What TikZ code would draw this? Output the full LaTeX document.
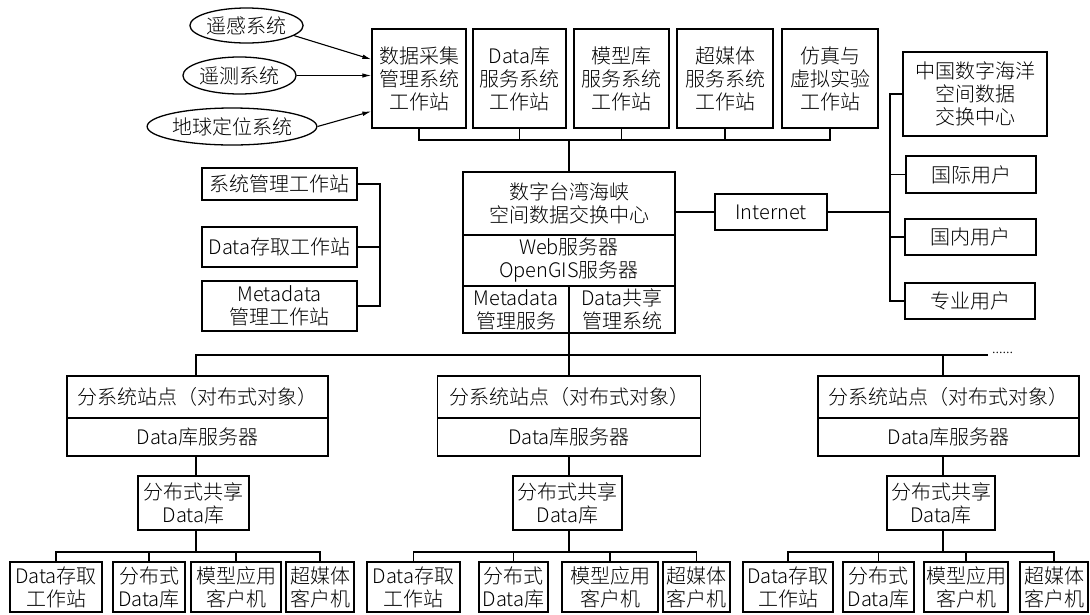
\documentclass[tikz,border=0pt]{standalone}
\usepackage{fontspec}
\setmainfont{Noto Sans CJK SC}[UprightFont=* Light]
\usetikzlibrary{arrows.meta,calc,shapes.geometric}
\newcommand\dgfont{\fontsize{20}{23}\selectfont}
\begin{document}
\begin{tikzpicture}[x=1pt,y=-1pt,
  box/.style={draw, line width=1.3pt, inner sep=0pt, align=center, font=\dgfont},
  ln/.style={line width=1.3pt},
  ell/.style={draw, ellipse, line width=1.3pt, inner sep=0pt, font=\dgfont},
  arr/.style={line width=1.1pt, -{Latex[length=9pt,width=4.5pt]}}]
\useasboundingbox (0,0) rectangle (1090,614);

% ellipses
\node[ell, minimum width=111, minimum height=35] (e1) at (246.5,25.5) {遥感系统};
\node[ell, minimum width=111, minimum height=37] (e2) at (239.5,75.5) {遥测系统};
\node[ell, minimum width=150, minimum height=37] (e3) at (232,126.5) {地球定位系统};

% top row
\node[box, minimum width=94, minimum height=99] (t1) at (419,78.5) {数据采集\\管理系统\\工作站};
\node[box, minimum width=93, minimum height=99] (t2) at (519.5,78.5) {Data库\\服务系统\\工作站};
\node[box, minimum width=95, minimum height=99] (t3) at (621.5,78.5) {模型库\\服务系统\\工作站};
\node[box, minimum width=96, minimum height=99] (t4) at (725,78.5) {超媒体\\服务系统\\工作站};
\node[box, minimum width=96, minimum height=99] (t5) at (830,78.5) {仿真与\\虚拟实验\\工作站};

\draw[arr] (e1.-12) -- ($(t1.north west)+(0,31)$);
\draw[arr] (e2.east) -- (e2.east -| t1.west);
\draw[arr] (e3.east) -- ($(t1.north west)+(0,83)$);

\coordinate (bus1) at (569,140);
\draw[ln] (t1.south) |- (t5.south |- bus1) -- (t5.south);
\foreach \n in {t2,t3,t4} \draw[ln] (\n.south) -- (\n.south |- bus1);

% center box
\node[box, minimum width=212, minimum height=63] (cTop) at (569,203.5) {数字台湾海峡\\空间数据交换中心};
\node[box, minimum width=212, minimum height=51] (cMid) at (569,260.5) {Web服务器\\OpenGIS服务器};
\node[box, minimum width=106, minimum height=47] (cBL) at (516,309.5) {Metadata\\管理服务};
\node[box, minimum width=106, minimum height=47] (cBR) at (622,309.5) {Data共享\\管理系统};
\draw[ln] (bus1) -- (cTop.north);

% left group
\node[box, minimum width=155, minimum height=32] (l1) at (279.5,184) {系统管理工作站};
\node[box, minimum width=155, minimum height=40] (l2) at (279.5,247) {Data存取工作站};
\node[box, minimum width=155, minimum height=50] (l3) at (279.5,306) {Metadata\\管理工作站};
\coordinate (lb) at (380,0);
\draw[ln] (l1.east) -- (l1.east -| lb) -- (l3.east -| lb) -- (l3.east);
\draw[ln] (l2.east) -- (l2.east -| lb);

% internet and users
\node[box, minimum width=112, minimum height=36] (inet) at (771,212) {Internet};
\node[box, minimum width=144, minimum height=84] (cn) at (975,94) {中国数字海洋\\空间数据\\交换中心};
\node[box, minimum width=130, minimum height=37] (gj) at (971,174.5) {国际用户};
\node[box, minimum width=131, minimum height=36] (gn) at (970.5,237) {国内用户};
\node[box, minimum width=130, minimum height=36] (zy) at (970,301) {专业用户};
\coordinate (rb) at (890,0);
\draw[ln] (inet.west) -- (inet.west -| cTop.east);
\draw[ln] (inet.east) -- (inet.east -| rb);
\draw[ln] (cn.west) -| (zy.west -| rb) -- (zy.west);
\draw[ln] (gj.west) -- (gj.west -| rb);
\draw[ln] (gn.west) -- (gn.west -| rb);

% subsystems
\coordinate (v1) at (196,0);
\coordinate (v2) at (569,0);
\coordinate (v3) at (943,0);
\coordinate (mb) at (988,355);
\coordinate (lbus) at (0,552);

\node[box, minimum width=261, minimum height=42] (s1t) at (197.5,397) {分系统站点（对布式对象）};
\node[box, minimum width=261, minimum height=38] (s1b) at (197.5,437) {Data库服务器};
\node[box, minimum width=263, minimum height=42] (s2t) at (569,397) {分系统站点（对布式对象）};
\node[box, minimum width=263, minimum height=38] (s2b) at (569,437) {Data库服务器};
\node[box, minimum width=261, minimum height=42] (s3t) at (948.5,397) {分系统站点（对布式对象）};
\node[box, minimum width=261, minimum height=38] (s3b) at (948.5,437) {Data库服务器};

\draw[ln] (v1 |- s1t.north) |- (mb);
\draw[ln] (v2 |- cBL.south) -- (v2 |- s2t.north);
\draw[ln] (v3 |- mb) -- (v3 |- s3t.north);
\node[font=\fontsize{14}{16}\selectfont, anchor=west, inner sep=0pt] (dots) at (992,353) {......};

\node[box, minimum width=111, minimum height=54] (d1) at (193.5,503) {分布式共享\\Data库};
\node[box, minimum width=109, minimum height=54] (d2) at (567.5,503) {分布式共享\\Data库};
\node[box, minimum width=108, minimum height=54] (d3) at (941,503) {分布式共享\\Data库};

\draw[ln] (v1 |- s1b.south) -- (v1 |- d1.north);
\draw[ln] (v2 |- s2b.south) -- (v2 |- d2.north);
\draw[ln] (v3 |- s3b.south) -- (v3 |- d3.north);

% bottom row
\node[box, minimum width=92, minimum height=50] (b11) at (56,587) {Data存取\\工作站};
\node[box, minimum width=72, minimum height=50] (b12) at (149,587) {分布式\\Data库};
\node[box, minimum width=90, minimum height=50] (b13) at (236,587) {模型应用\\客户机};
\node[box, minimum width=68, minimum height=50] (b14) at (320,587) {超媒体\\客户机};

\node[box, minimum width=93, minimum height=50] (b21) at (413.5,587) {Data存取\\工作站};
\node[box, minimum width=69, minimum height=50] (b22) at (513.5,587) {分布式\\Data库};
\node[box, minimum width=96, minimum height=50] (b23) at (610,587) {模型应用\\客户机};
\node[box, minimum width=67, minimum height=50] (b24) at (696.5,587) {超媒体\\客户机};

\node[box, minimum width=90, minimum height=50] (b31) at (788,587) {Data存取\\工作站};
\node[box, minimum width=71, minimum height=50] (b32) at (878.5,587) {分布式\\Data库};
\node[box, minimum width=84, minimum height=50] (b33) at (966,587) {模型应用\\客户机};
\node[box, minimum width=68, minimum height=50] (b34) at (1054,587) {超媒体\\客户机};

\draw[ln] (b11.north) |- (b14.north |- lbus) -- (b14.north);
\draw[ln] (b21.north) |- (b24.north |- lbus) -- (b24.north);
\draw[ln] (b31.north) |- (b34.north |- lbus) -- (b34.north);
\foreach \n in {b12,b13,b22,b23,b32,b33} \draw[ln] (\n.north) -- (\n.north |- lbus);
\draw[ln] (v1 |- d1.south) -- (v1 |- lbus);
\draw[ln] (v2 |- d2.south) -- (v2 |- lbus);
\draw[ln] (v3 |- d3.south) -- (v3 |- lbus);
\end{tikzpicture}
\end{document}
